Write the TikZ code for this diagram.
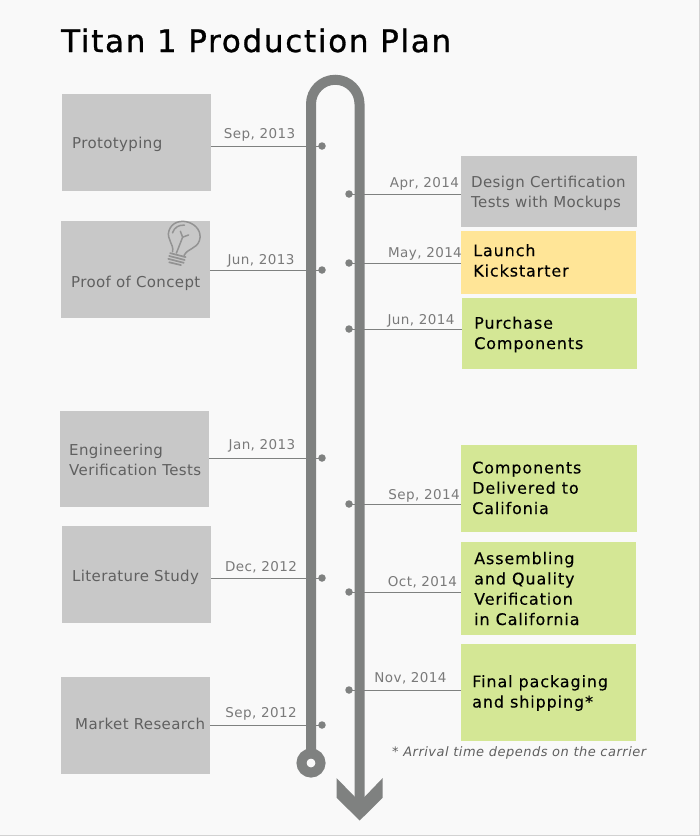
\documentclass[tikz,border=0pt]{standalone}
\usepackage{fontspec}
\setmainfont{DejaVu Sans}
\newfontfamily\plainfont[LetterSpace=2.5]{DejaVu Sans}
\newfontfamily\datefont[LetterSpace=3]{DejaVu Sans}
\newfontfamily\darkfont[LetterSpace=5.5,FakeBold=0.2]{DejaVu Sans}
\newfontfamily\notefont[LetterSpace=3.8]{DejaVu Sans}
\newfontfamily\titlefont[LetterSpace=5.5,FakeBold=0.9]{DejaVu Sans}
\usetikzlibrary{calc}
\definecolor{bgc}{HTML}{F9F9F9}
\definecolor{edgec}{HTML}{D2D2D2}
\definecolor{railc}{HTML}{7F8180}
\definecolor{boxgray}{HTML}{C8C8C8}
\definecolor{boxgreen}{HTML}{D4E795}
\definecolor{boxyellow}{HTML}{FFE597}
\definecolor{txtgray}{HTML}{606060}
\definecolor{dategray}{HTML}{7A7A7A}
\definecolor{bulbc}{HTML}{939393}
\tikzset{
  x=1pt,y=-1pt,
  panel/.style={draw=none,inner sep=0pt,outer sep=0pt,anchor=north west},
  tick/.style={circle,fill=railc,draw=none,minimum size=7.5pt,inner sep=0pt},
  linkline/.style={draw=railc,line width=1pt},
  rail/.style={draw=railc,line width=10pt},
  datetext/.style={font=\fontsize{13.5}{16}\datefont,text=dategray,anchor=base,inner sep=0pt},
  graytext/.style={font=\fontsize{15}{20}\plainfont,text=txtgray,anchor=base west,inner sep=0pt,align=left},
  darktext/.style={font=\fontsize{16}{20.3}\darkfont,text=black,anchor=base west,inner sep=0pt,align=left},
}
\newcommand{\panelbox}[6]{\node[panel,fill=#6,minimum width=#4pt,minimum height=#5pt] (#1) at (#2,#3) {};}
\begin{document}
\begin{tikzpicture}
\useasboundingbox (0,0) rectangle (700,836);
\fill[bgc] (0,0) rectangle (700,836);
\fill[edgec] (699,0) rectangle (700,836) (0,835) rectangle (700,836);
\node[anchor=base west,inner sep=0pt,font=\fontsize{31}{36}\titlefont,text=black] (title) at (61,52) {Titan 1 Production Plan};
% boxes
\panelbox{bProto}{62}{94}{149}{97}{boxgray}
\panelbox{bProof}{61}{221}{149}{97}{boxgray}
\panelbox{bEng}{60}{411}{149}{96}{boxgray}
\panelbox{bLit}{62}{526}{149}{97}{boxgray}
\panelbox{bMkt}{61}{677}{149}{97}{boxgray}
\panelbox{bDesign}{461}{156}{176}{71}{boxgray}
\panelbox{bLaunch}{460.5}{231}{175.5}{63}{boxyellow}
\panelbox{bPurch}{461.5}{298}{175.5}{71}{boxgreen}
\panelbox{bComp}{461}{445}{176}{87}{boxgreen}
\panelbox{bAsm}{461}{542}{175}{93}{boxgreen}
\panelbox{bFinal}{461}{644}{175}{97}{boxgreen}
% rail
\draw[rail] (311,757) -- (311,104) arc[start angle=180,end angle=360,radius=24.25] -- (359.5,800);
\fill[railc] (336.5,778) -- (355,797) -- (364.5,797) -- (382.7,778) -- (382.7,797.7) -- (359.7,820.5) -- (336.5,797.7) -- cycle;
\node[circle,draw=railc,line width=10pt,fill=bgc,minimum size=19pt,inner sep=0pt] (ring) at (311,763) {};
% dots
\node[tick] (dProto) at (322,146) {};
\node[tick] (dProof) at (322,270) {};
\node[tick] (dEng) at (322,458) {};
\node[tick] (dLit) at (322,578) {};
\node[tick] (dMkt) at (322,725) {};
\node[tick] (dDesign) at (349,194) {};
\node[tick] (dLaunch) at (349,263) {};
\node[tick] (dPurch) at (349,329) {};
\node[tick] (dComp) at (349,504) {};
\node[tick] (dAsm) at (349,592) {};
\node[tick] (dFinal) at (349,690) {};
% connectors
\foreach \d/\b in {dProto/bProto,dProof/bProof,dEng/bEng,dLit/bLit,dMkt/bMkt}
  \draw[linkline] (\d.center) -- (\d.center -| \b.east);
\foreach \d/\b in {dDesign/bDesign,dLaunch/bLaunch,dPurch/bPurch,dComp/bComp,dAsm/bAsm,dFinal/bFinal}
  \draw[linkline] (\d.center) -- (\d.center -| \b.west);
% dates
\node[datetext] (t1) at (259.5,138) {Sep, 2013};
\node[datetext] (t2) at (261,264) {Jun, 2013};
\node[datetext] (t3) at (262,449) {Jan, 2013};
\node[datetext] (t4) at (261,571) {Dec, 2012};
\node[datetext] (t5) at (261,717) {Sep, 2012};
\node[datetext] (t6) at (424.5,187) {Apr, 2014};
\node[datetext] (t7) at (425,257) {May, 2014};
\node[datetext] (t8) at (421,324) {Jun, 2014};
\node[datetext] (t9) at (424,499) {Sep, 2014};
\node[datetext] (t10) at (422.5,586) {Oct, 2014};
\node[datetext] (t11) at (410.5,682) {Nov, 2014};
% labels
\node[graytext] (l1) at (72,148) {Prototyping};
\node[graytext] (l2) at (71,287) {Proof of Concept};
\node[graytext] (l3) at (69,475) {Engineering\\Verification Tests};
\node[graytext] (l4) at (72,581) {Literature Study};
\node[graytext] (l5) at (75,729) {Market Research};
\node[graytext] (l6) at (471,207) {Design Certification\\Tests with Mockups};
\node[darktext] (l7) at (473,276.5) {Launch\\Kickstarter};
\node[darktext] (l8) at (474,349) {Purchase\\Components};
\node[darktext] (l9) at (472,514) {Components\\Delivered to\\Califonia};
\node[darktext] (l10) at (474,625) {Assembling\\and Quality\\Verification\\in California};
\node[darktext] (l11) at (472,707.5) {Final packaging\\and shipping*};
\node[anchor=base west,inner sep=0pt,font=\fontsize{13}{15}\notefont\itshape,text=txtgray] (note) at (392,756) {* Arrival time depends on the carrier};
% bulb
\begin{scope}[shift={(174,267)},rotate=-18,draw=bulbc,line width=1.5pt,line cap=round,fill=none]
\draw (-6,-14) .. controls (-7,-22) and (-16,-24) .. (-16,-33) .. controls (-16,-42) and (-8,-47) .. (0,-47) .. controls (8,-47) and (16,-42) .. (16,-33) .. controls (16,-24) and (7,-22) .. (6,-14);
\draw (-12,-32) .. controls (-12,-38) and (-8,-42) .. (-3,-43);
\draw (-2,-14) -- (-1,-31) (-1,-31) -- (-5,-36) (-1,-31) -- (4,-35);
\draw[line width=1.7pt] (-8,-12) -- (8,-13) (-8,-9) -- (8,-10) (-8,-6) -- (8,-7) (-6,-3) -- (6,-4);
\end{scope}
\end{tikzpicture}
\end{document}
